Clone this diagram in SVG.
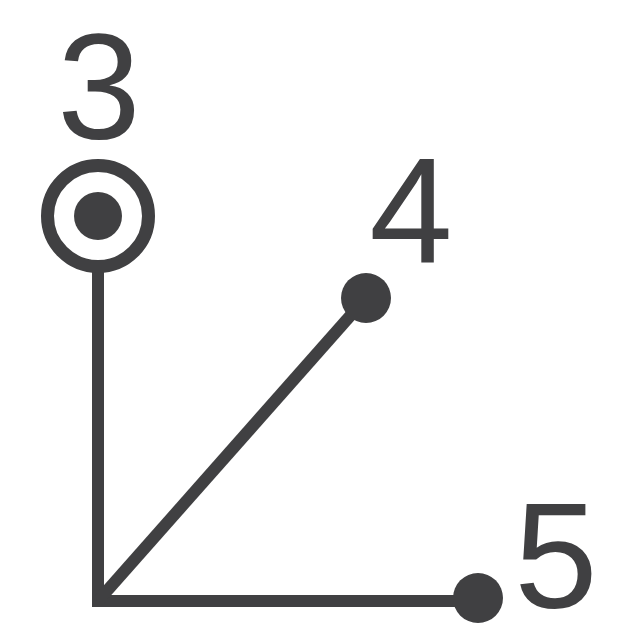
<svg xmlns="http://www.w3.org/2000/svg" width="640" height="640" viewBox="0 0 640 640">
<style>
.edge{stroke:#404042;stroke-width:12;fill:none;stroke-linecap:butt}
.dot{fill:#404042}
.ring{fill:none;stroke:#404042;stroke-width:13}
.lbl{font-family:"Liberation Sans",Arial,sans-serif;font-size:150px;fill:#404042;text-anchor:middle}
</style>
<rect width="640" height="640" fill="#ffffff"/>
<g id="connectors">
<path class="edge" d="M98,270 V601 H478"/>
<line class="edge" x1="98" y1="601" x2="366" y2="298"/>
</g>
<g id="node3">
<circle class="ring" cx="98" cy="216" r="50.5"/>
<circle class="dot" cx="98" cy="216" r="24"/>
<text class="lbl" x="99" y="139">3</text>
</g>
<g id="node4">
<circle class="dot" cx="366" cy="298" r="25"/>
<text class="lbl" x="411" y="262">4</text>
</g>
<g id="node5">
<circle class="dot" cx="478" cy="598" r="25"/>
<text class="lbl" x="556" y="608">5</text>
</g>
</svg>
